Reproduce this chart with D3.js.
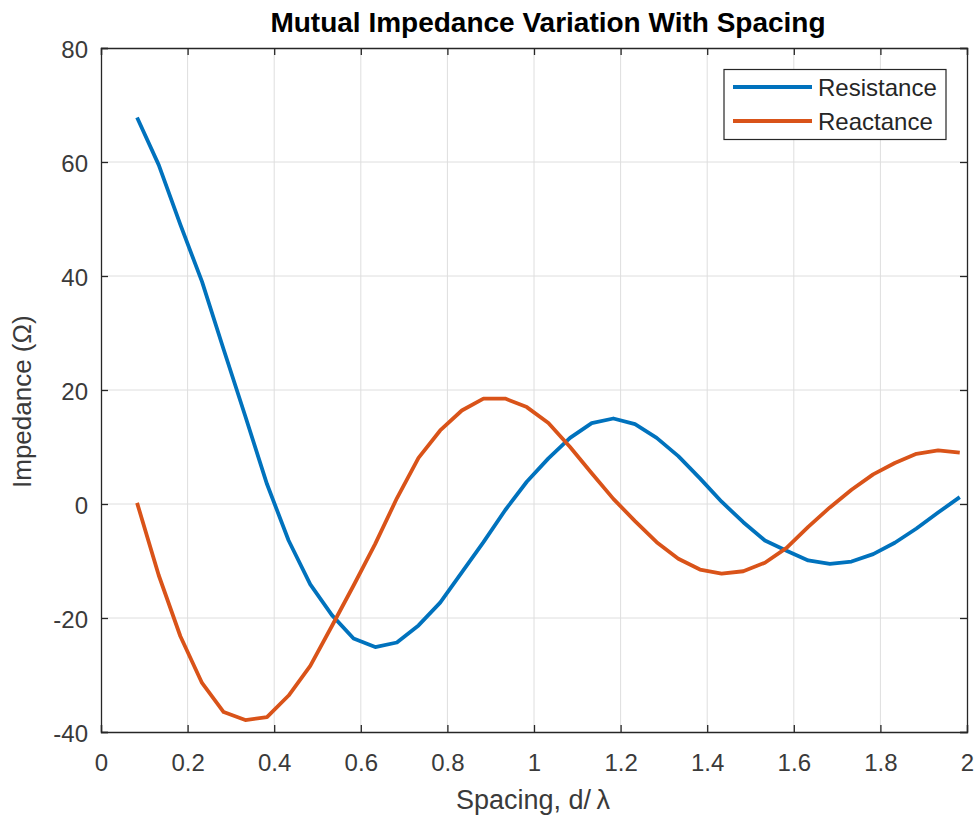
<!DOCTYPE html>
<html>
<head>
<meta charset="utf-8">
<script src="https://cdn.jsdelivr.net/npm/d3@7"></script>
<style>
  html, body { margin: 0; padding: 0; background: #fff; }
  svg { display: block; }
  text { font-family: "Liberation Sans", Arial, Helvetica, sans-serif; }
</style>
</head>
<body>
<svg id="chart" width="976" height="815"></svg>
<script>
// ---- data ----
const spacing = d3.range(39).map(k => +(0.0833 + 0.05 * k).toFixed(4));
const resistance = [67.8, 59.5, 49.0, 39.0, 27.1, 15.4, 3.5, -6.4, -14.1, -19.5,
  -23.6, -25.1, -24.3, -21.3, -17.3, -12.0, -6.7, -1.1, 3.9, 8.0,
  11.6, 14.2, 15.0, 14.0, 11.6, 8.4, 4.5, 0.4, -3.2, -6.4,
  -8.2, -9.9, -10.5, -10.1, -8.8, -6.8, -4.3, -1.5, 1.2];
const reactance = [0.2, -12.5, -23.2, -31.4, -36.5, -37.9, -37.4, -33.6, -28.4, -21.4,
  -14.3, -7.0, 1.0, 8.1, 12.9, 16.4, 18.5, 18.5, 17.0, 14.2,
  10.0, 5.4, 0.9, -3.0, -6.7, -9.6, -11.5, -12.2, -11.8, -10.3,
  -7.7, -4.0, -0.6, 2.5, 5.2, 7.2, 8.8, 9.4, 9.0];
const seriesNames = ["Resistance", "Reactance"];
const seriesColors = ["#0072BD", "#D95319"];
const xTicks = [0, 0.2, 0.4, 0.6, 0.8, 1, 1.2, 1.4, 1.6, 1.8, 2];
const yTicks = [-40, -20, 0, 20, 40, 60, 80];
const titleText = "Mutual Impedance Variation With Spacing";
const xLabel = "Spacing, d/\u2009\u03BB";
const yLabel = "Impedance (\u03A9)";

// ---- layout ----
const L = 101, R = 967, T = 48, B = 732;
const svg = d3.select("#chart");
const x = d3.scaleLinear().domain([0, 2]).range([L, R]);
const y = d3.scaleLinear().domain([-40, 80]).range([B, T]);
const axisColor = "#262626";

// grid
const grid = svg.append("g");
grid.selectAll("line.vx").data(xTicks.slice(1, -1)).join("line")
  .attr("x1", d => x(d)).attr("x2", d => x(d)).attr("y1", T).attr("y2", B)
  .attr("stroke", "#dedede").attr("stroke-width", 1);
grid.selectAll("line.hy").data(yTicks.slice(1, -1)).join("line")
  .attr("x1", L).attr("x2", R).attr("y1", d => y(d)).attr("y2", d => y(d))
  .attr("stroke", "#dedede").attr("stroke-width", 1);

// lines
const lineGen = d3.line().x((d, i) => x(spacing[i])).y(d => y(d));
[resistance, reactance].forEach((vals, s) => {
  svg.append("path").datum(vals)
    .attr("d", lineGen)
    .attr("fill", "none")
    .attr("stroke", seriesColors[s])
    .attr("stroke-width", 3.8)
    .attr("stroke-linejoin", "round");
});

// axes (ticks inward, box)
const tickLen = 7;
const gx = svg.append("g").attr("transform", `translate(0,${B})`)
  .call(d3.axisBottom(x).tickValues(xTicks).tickSize(-tickLen).tickPadding(22)
    .tickFormat(d => String(d)));
const gxTop = svg.append("g").attr("transform", `translate(0,${T})`)
  .call(d3.axisTop(x).tickValues(xTicks).tickSize(-tickLen).tickFormat(""));
const gy = svg.append("g").attr("transform", `translate(${L},0)`)
  .call(d3.axisLeft(y).tickValues(yTicks).tickSize(-tickLen).tickPadding(13)
    .tickFormat(d => String(d)));
const gyR = svg.append("g").attr("transform", `translate(${R},0)`)
  .call(d3.axisRight(y).tickValues(yTicks).tickSize(-tickLen).tickFormat(""));
[gx, gxTop, gy, gyR].forEach(g => {
  g.select(".domain").attr("stroke", axisColor).attr("stroke-width", 1.3);
  g.selectAll(".tick line").attr("stroke", axisColor).attr("stroke-width", 1.3);
  g.selectAll(".tick text").attr("fill", "#3a3a3a")
    .style("font-size", "24px").style("font-family", "'Liberation Sans', Arial, sans-serif");
});
gx.selectAll(".tick text").attr("dy", "0.71em");
gy.selectAll(".tick text").attr("dy", "0.4em");

// title & labels
svg.append("text").attr("x", (L + R) / 2 + 14).attr("y", 32)
  .attr("text-anchor", "middle").attr("font-weight", "bold")
  .attr("font-size", 28).attr("fill", "#000").text(titleText);
svg.append("text").attr("x", 533).attr("y", 809)
  .attr("text-anchor", "middle").attr("font-size", 27).attr("fill", "#3a3a3a").text(xLabel);
svg.append("text").attr("transform", `translate(31,488) rotate(-90)`)
  .attr("text-anchor", "start").attr("font-size", 26).attr("fill", "#3a3a3a").text(yLabel);

// legend
const lg = svg.append("g");
lg.append("rect").attr("x", 724).attr("y", 69.5).attr("width", 222).attr("height", 70)
  .attr("fill", "#fff").attr("stroke", axisColor).attr("stroke-width", 1.2);
seriesNames.forEach((name, i) => {
  const yy = 87 + i * 34;
  lg.append("line").attr("x1", 733).attr("x2", 812).attr("y1", yy).attr("y2", yy)
    .attr("stroke", seriesColors[i]).attr("stroke-width", 3.8);
  lg.append("text").attr("x", 818).attr("y", yy).attr("dy", "0.36em")
    .attr("font-size", 24).attr("fill", "#262626").text(name);
});
</script>
</body>
</html>
